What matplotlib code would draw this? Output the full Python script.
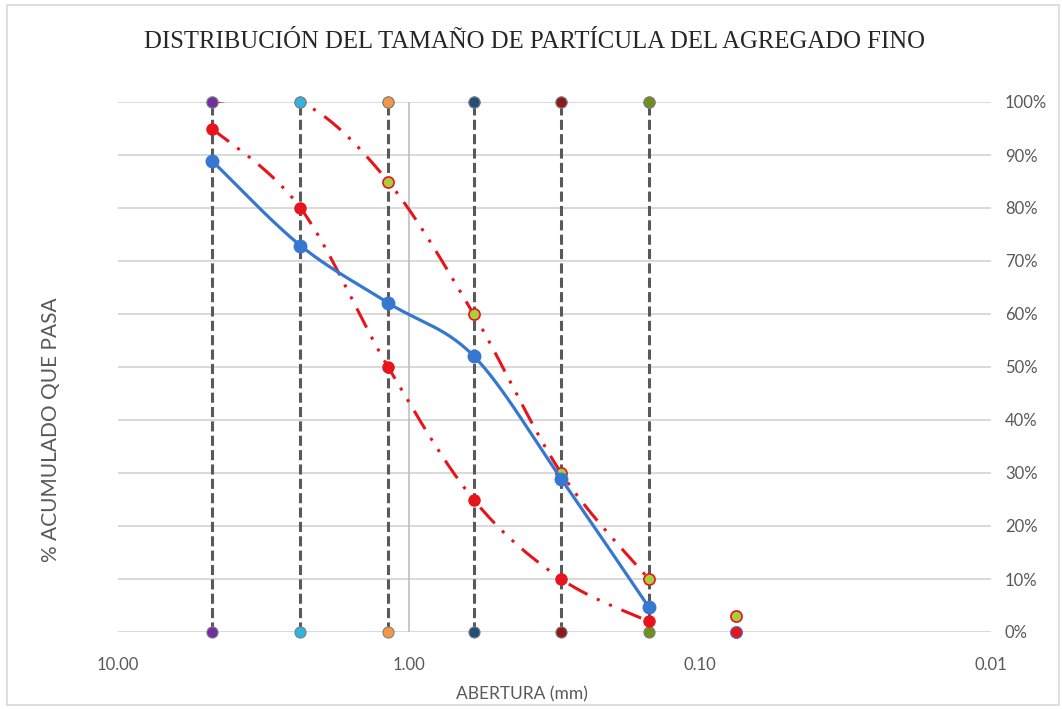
import numpy as np
import matplotlib
matplotlib.use("Agg")
import matplotlib.pyplot as plt
from matplotlib.patches import Rectangle

# ---------------- data ----------------
sieves = [4.75, 2.36, 1.18, 0.60, 0.30, 0.15]
pct_passing = [88.9, 72.9, 62.1, 52.1, 28.9, 4.7]
lower_limit = [95, 80, 50, 25, 10, 2]
upper_limit = [100, 100, 85, 60, 30, 10]
extra_sieve = [0.075]
lower_extra = [0]
upper_extra = [3]
guide_colors = ['#7030A0', '#2FB5DC', '#F79646', '#1F4E79', '#8B1A1A', '#6F8F1F']
xtick_values = [10, 1, 0.1, 0.01]
xtick_labels = ['10.00', '1.00', '0.10', '0.01']
ytick_values = list(range(0, 101, 10))
title = 'DISTRIBUCIÓN DEL TAMAÑO DE PARTÍCULA DEL AGREGADO FINO'
xlabel = 'ABERTURA (mm)'
ylabel = '% ACUMULADO QUE PASA'


def smooth(xs, ys, n=50):
    """Excel-like smoothed line (Catmull-Rom Bezier) in log-x space."""
    pts = np.column_stack([np.log10(xs), np.asarray(ys, float)])
    P = np.vstack([pts[0], pts, pts[-1]])
    out = []
    t = np.linspace(0, 1, n)[:, None]
    for i in range(1, len(P) - 2):
        p0, p1, p2, p3 = P[i - 1], P[i], P[i + 1], P[i + 2]
        c1 = p1 + (p2 - p0) / 6
        c2 = p2 - (p3 - p1) / 6
        b = (1 - t) ** 3 * p1 + 3 * (1 - t) ** 2 * t * c1 + 3 * (1 - t) * t ** 2 * c2 + t ** 3 * p2
        out.append(b if i == 1 else b[1:])
    arr = np.vstack(out)
    return 10 ** arr[:, 0], arr[:, 1]


W, H = 1062, 709
fig = plt.figure(figsize=(W / 100, H / 100), dpi=100)
fig.patch.set_facecolor('white')
fig.patches.append(Rectangle((7 / W, 4 / H), (1059 - 7) / W, (704 - 4) / H,
                             transform=fig.transFigure, fill=False,
                             edgecolor='#D9D9D9', lw=1.2))

L, R, T, B = 118, 991, 102, 632
ax = fig.add_axes([L / W, 1 - B / H, (R - L) / W, (B - T) / H])
ax.set_xscale('log')
ax.set_xlim(10, 0.01)
ax.set_ylim(0, 100)
for s in ax.spines.values():
    s.set_visible(False)

grid_c = '#D9D9D9'
for yv in ytick_values:
    ax.axhline(yv, color=grid_c, lw=1.4, zorder=1)
ax.axvline(1, color='#BFBFBF', lw=1.2, zorder=1)

# vertical guide lines at each sieve
for xv, c in zip(sieves, guide_colors):
    ax.plot([xv, xv], [0, 100], color='#595959', lw=2.2,
            linestyle=(0, (3.3, 1.4)), zorder=2,
            marker='o', markersize=8, markerfacecolor=c,
            markeredgecolor='#7F7F7F', markeredgewidth=0.8, clip_on=False)

red = '#E8141B'
dash_red = (0, (7.0, 3.4, 1.0, 3.4, 1.0, 3.4))
# lower limit
sx, sy = smooth(sieves, lower_limit)
ax.plot(sx, sy, color=red, lw=2.2, linestyle=dash_red, zorder=3)
ax.plot(sieves, lower_limit, 'o', color=red, markersize=8, markeredgecolor=red,
        zorder=4, clip_on=False)
ax.plot(extra_sieve, lower_extra, 'o', color=red, markersize=8.5,
        markeredgecolor='#4472C4', markeredgewidth=0.8, zorder=4, clip_on=False)
# upper limit
sx, sy = smooth(sieves, upper_limit)
ax.plot(sx, sy, color=red, lw=2.2, linestyle=dash_red, zorder=3)
ax.plot(sieves[2:], upper_limit[2:], 'o', color='#A8D03C', markersize=8,
        markeredgecolor=red, markeredgewidth=1.2, zorder=4, clip_on=False)
ax.plot(extra_sieve, upper_extra, 'o', color='#A8D03C', markersize=8,
        markeredgecolor=red, markeredgewidth=1.2, zorder=4, clip_on=False)
# measured curve
blue = '#3677D1'
sx, sy = smooth(sieves, pct_passing)
ax.plot(sx, sy, color=blue, lw=2.3, zorder=5)
ax.plot(sieves, pct_passing, 'o', color=blue, markersize=9, zorder=6, clip_on=False)

# redraw top guide markers over the red line
for xv, c in zip(sieves, guide_colors):
    ax.plot([xv], [100], 'o', markersize=8, markerfacecolor=c,
            markeredgecolor='#7F7F7F', markeredgewidth=0.8, zorder=7, clip_on=False)

tick_font = dict(family=['Lato', 'DejaVu Sans'], size=12)
ax.set_xticks(xtick_values)
ax.set_xticklabels(xtick_labels, color='#595959', **tick_font)
ax.xaxis.set_minor_locator(matplotlib.ticker.NullLocator())
ax.tick_params(axis='x', length=0, pad=18)
ax.yaxis.tick_right()
ax.set_yticks(ytick_values)
ax.set_yticklabels([f'{v}%' for v in ytick_values], color='#595959', **tick_font)
ax.tick_params(axis='y', length=0, pad=10)

fig.text(522 / W, 1 - 694 / H, xlabel, ha='center', va='center',
         color='#595959', family=['Lato', 'DejaVu Sans'], size=12.5)
fig.text(51 / W, 1 - 430 / H, ylabel, ha='center', va='center', rotation=90,
         color='#595959', family=['Lato', 'DejaVu Sans'], size=15)

tt = fig.text(535 / W, 1 - 42 / H, title, ha='center', va='center',
              color='#262626', family=['Liberation Serif', 'DejaVu Serif'], size=17)
fig.canvas.draw()
w = tt.get_window_extent().width
tt.set_fontsize(17 * 780 / w)

fig.savefig('out.png', dpi=100)
